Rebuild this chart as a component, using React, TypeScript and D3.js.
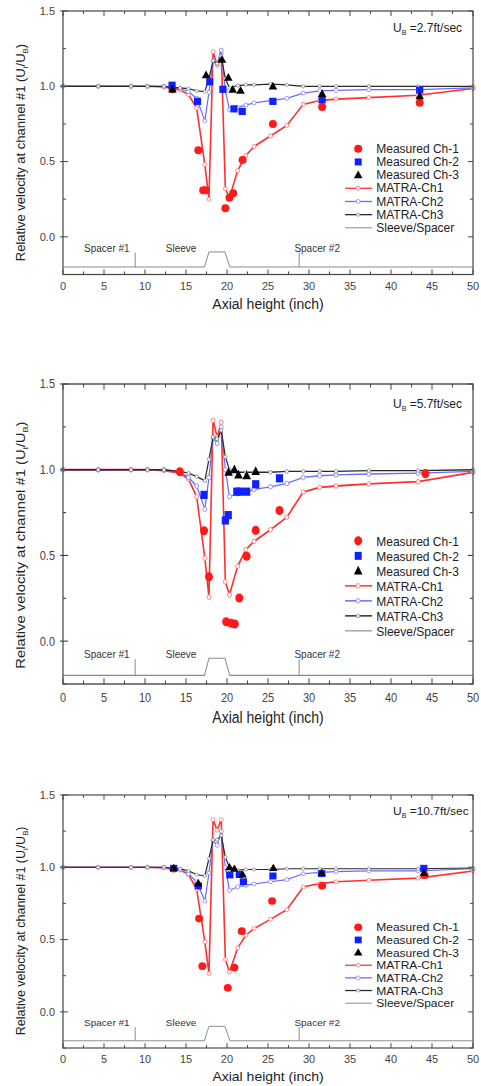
import React from "react";
import * as d3 from "d3";

// MATRA grid nodes (inch)
const nodeX = [0, 4.3, 8.3, 10.3, 12.3, 14.3, 15.3, 16.3, 17.3, 17.8, 18.3, 18.8, 19.3, 19.8, 20.3, 21.3, 22.3, 23.3, 25.3, 27.3, 29.3, 31.3, 33.3, 37.3, 43.3, 50];

// panel 1 : UB = 2.7 ft/sec
const p1Ch1 = [1, 1, 1, 1, 0.995, 0.975, 0.945, 0.855, 0.48, 0.25, 1.23, 1.14, 1.22, 0.32, 0.26, 0.44, 0.54, 0.6, 0.67, 0.74, 0.88, 0.905, 0.915, 0.925, 0.94, 0.985];
const p1Ch2 = [1, 1, 1, 1, 1, 0.985, 0.965, 0.92, 0.77, 0.96, 1.17, 1.15, 1.24, 0.97, 0.845, 0.86, 0.875, 0.89, 0.905, 0.92, 0.955, 0.97, 0.973, 0.978, 0.978, 0.99];
const p1Ch3 = [1, 1, 1, 1, 1, 0.99, 0.985, 0.97, 0.965, 1.05, 1.17, 1.15, 1.2, 1.05, 0.99, 1.005, 1.01, 1.01, 1.015, 1.01, 1, 1, 1, 1, 1, 1];
const p1M1x = [13.35, 16.5, 17.1, 17.4, 19.8, 20.3, 20.75, 21.9, 25.6, 31.6, 43.5];
const p1M1y = [0.98, 0.576, 0.31, 0.31, 0.19, 0.26, 0.29, 0.51, 0.75, 0.863, 0.89];
const p1M2x = [13.3, 16.4, 17.9, 19.5, 20.85, 21.85, 25.6, 31.6, 43.5];
const p1M2y = [1.007, 0.9, 1.03, 0.98, 0.85, 0.833, 0.9, 0.91, 0.975];
const p1M3x = [13.35, 17.45, 19.4, 20.16, 20.7, 21.65, 25.6, 31.6, 43.5];
const p1M3y = [0.98, 1.075, 1.177, 1.058, 0.978, 0.972, 1.0, 0.95, 0.935];

// panel 2 : UB = 5.7 ft/sec
const p2Ch1 = [1, 1, 1, 1, 0.995, 0.98, 0.945, 0.843, 0.484, 0.257, 1.288, 1.19, 1.277, 0.346, 0.27, 0.437, 0.534, 0.582, 0.65, 0.723, 0.87, 0.897, 0.905, 0.917, 0.93, 0.985];
const p2Ch2 = [1, 1, 1, 1, 1, 0.985, 0.955, 0.905, 0.77, 0.955, 1.186, 1.153, 1.25, 1.0, 0.843, 0.86, 0.87, 0.885, 0.9, 0.92, 0.955, 0.965, 0.97, 0.975, 0.98, 0.99];
const p2Ch3 = [1, 1, 1, 1, 1, 0.99, 0.98, 0.96, 0.936, 1.06, 1.19, 1.18, 1.23, 1.075, 1.0, 0.985, 0.985, 0.985, 0.985, 0.99, 0.99, 0.99, 0.99, 0.995, 0.995, 1.0];
const p2M1x = [14.25, 17.2, 17.8, 19.9, 20.5, 20.95, 21.5, 22.4, 23.5, 26.4, 44.2];
const p2M1y = [0.988, 0.644, 0.375, 0.113, 0.104, 0.1, 0.252, 0.495, 0.646, 0.762, 0.977];
const p2M2x = [17.2, 19.8, 20.15, 21.2, 21.55, 22.4, 23.5, 26.4];
const p2M2y = [0.853, 0.704, 0.735, 0.872, 0.872, 0.872, 0.915, 0.95];
const p2M3x = [20.2, 20.9, 21.4, 22.4, 23.5];
const p2M3y = [0.985, 1.0, 0.97, 0.965, 0.99];

// panel 3 : UB = 10.7 ft/sec
const p3Ch1 = [1, 1, 1, 1, 0.995, 0.98, 0.95, 0.848, 0.484, 0.265, 1.33, 1.256, 1.33, 0.362, 0.276, 0.442, 0.53, 0.576, 0.64, 0.707, 0.864, 0.887, 0.9, 0.91, 0.925, 0.975];
const p3Ch2 = [1, 1, 1, 1, 1, 0.985, 0.955, 0.9, 0.767, 0.96, 1.187, 1.152, 1.25, 1.0, 0.84, 0.865, 0.875, 0.885, 0.9, 0.915, 0.955, 0.965, 0.97, 0.975, 0.975, 0.99];
const p3Ch3 = [1, 1, 1, 1, 1, 0.99, 0.975, 0.95, 0.94, 1.06, 1.19, 1.19, 1.22, 1.07, 1.0, 0.98, 0.985, 0.985, 0.985, 0.99, 0.99, 0.99, 0.99, 0.99, 0.99, 0.995];
const p3M1x = [13.5, 16.6, 17.0, 20.1, 20.9, 21.8, 25.5, 31.6, 44.1];
const p3M1y = [0.99, 0.645, 0.316, 0.166, 0.306, 0.558, 0.767, 0.873, 0.945];
const p3M2x = [13.5, 16.5, 20.35, 21.5, 22.0, 25.6, 31.55, 44.0];
const p3M2y = [0.993, 0.871, 0.947, 0.95, 0.9, 0.94, 0.956, 0.993];
const p3M3x = [13.5, 16.5, 20.3, 20.9, 21.9, 25.65, 31.55, 44.0];
const p3M3y = [0.995, 0.89, 1.0, 0.99, 0.95, 0.995, 0.96, 0.96];

// sleeve / spacer outline
const sleeveX = [0, 17.25, 17.8, 19.75, 20.35, 50];
const sleeveY = [-0.2, -0.2, -0.1, -0.1, -0.2, -0.2];
const spacerX = [8.8, 28.8];

const legendLabels = ["Measured Ch-1", "Measured Ch-2", "Measured Ch-3", "MATRA-Ch1", "MATRA-Ch2", "MATRA-Ch3", "Sleeve/Spacer"];
const xTicks = [0, 5, 10, 15, 20, 25, 30, 35, 40, 45, 50];
const yTicks = [0, 0.5, 1.0, 1.5];

const panels = [
  { top: 11, bottom: 274.5, ub: "=2.7ft/sec", ch: [p1Ch1, p1Ch2, p1Ch3], m: [[p1M1x, p1M1y], [p1M2x, p1M2y], [p1M3x, p1M3y]] },
  { top: 384, bottom: 684, ub: "=5.7ft/sec", ch: [p2Ch1, p2Ch2, p2Ch3], m: [[p2M1x, p2M1y], [p2M2x, p2M2y], [p2M3x, p2M3y]] },
  { top: 795, bottom: 1048, ub: "=10.7ft/sec", ch: [p3Ch1, p3Ch2, p3Ch3], m: [[p3M1x, p3M1y], [p3M2x, p3M2y], [p3M3x, p3M3y]] },
];

const RED = "#ff1a1a";
const BLUE = "#1020ff";
const lineColors = ["#ff3030", "#6a6aff", "#2a2a2a"];
const nodeStroke = ["#ff7070", "#8080ff", "#888"];
const FONT = "Arial, 'Liberation Sans', sans-serif";
const H0 = 263.5;

const x = d3.scaleLinear().domain([0, 50]).range([63, 473]);
const y = d3.scaleLinear().domain([-0.25, 1.5]).range([H0, 0]);

const triangle = (cx: number, cy: number, r: number) =>
  `M${cx},${cy - r}L${cx + r * 0.95},${cy + r * 0.7}L${cx - r * 0.95},${cy + r * 0.7}Z`;

function Panel({ cfg }: { cfg: any }) {
  const s = (cfg.bottom - cfg.top) / H0;
  const line = d3.line<number>().x((_, i) => x(nodeX[i])).y((d) => y(d));
  const sleeveLine = d3.line<number>().x((_, i) => x(sleeveX[i])).y((d) => y(d));
  const xMinor = d3.range(0, 50.01, 2.5);
  const yMinor = d3.range(-0.25, 1.501, 0.25);

  return (
    <g transform={`translate(0,${cfg.top}) scale(1,${s})`} fontFamily={FONT}>
      {/* sleeve / spacer */}
      <path d={sleeveLine(sleeveY) || ""} fill="none" stroke="#8a8a8a" strokeWidth={1} />
      {spacerX.map((v) => (
        <line key={v} x1={x(v)} x2={x(v)} y1={y(-0.2)} y2={y(-0.105)} stroke="#8a8a8a" strokeWidth={1} />
      ))}
      <text x={x(5.35)} y={y(-0.1)} fontSize={10} fill="#333" textAnchor="middle">Spacer #1</text>
      <text x={x(14.4)} y={y(-0.1)} fontSize={10} fill="#333" textAnchor="middle">Sleeve</text>
      <text x={x(31)} y={y(-0.1)} fontSize={10} fill="#333" textAnchor="middle">Spacer #2</text>

      {/* MATRA lines */}
      {cfg.ch.map((vals: number[], k: number) => (
        <g key={k}>
          <path d={line(vals) || ""} fill="none" stroke={lineColors[k]} strokeWidth={k === 0 ? 1.6 : 1.2} />
          {vals.map((v, i) => (
            <circle key={i} cx={x(nodeX[i])} cy={y(v)} r={k === 2 ? 1.6 : 2} fill="#fff" stroke={nodeStroke[k]} strokeWidth={0.8} />
          ))}
        </g>
      ))}

      {/* measured */}
      {cfg.m[0][0].map((v: number, i: number) => (
        <circle key={"a" + i} cx={x(v)} cy={y(cfg.m[0][1][i])} r={4} fill={RED} />
      ))}
      {cfg.m[1][0].map((v: number, i: number) => (
        <rect key={"b" + i} x={x(v) - 3.6} y={y(cfg.m[1][1][i]) - 3.6} width={7.2} height={7.2} fill={BLUE} />
      ))}
      {cfg.m[2][0].map((v: number, i: number) => (
        <path key={"c" + i} d={triangle(x(v), y(cfg.m[2][1][i]), 4.5)} fill="#000" />
      ))}

      {/* frame + ticks */}
      <rect x={x(0)} y={0} width={x(50) - x(0)} height={H0} fill="none" stroke="#444" strokeWidth={1.2} />
      {xMinor.map((v) => {
        const len = v % 5 === 0 ? 5 : 3;
        return (
          <g key={"xt" + v} stroke="#444" strokeWidth={1}>
            <line x1={x(v)} x2={x(v)} y1={H0} y2={H0 - len} />
            <line x1={x(v)} x2={x(v)} y1={0} y2={len} />
          </g>
        );
      })}
      {yMinor.map((v) => {
        const major = Math.abs(Math.round(v * 2) - v * 2) < 1e-6;
        const len = major ? 5 : 3;
        return (
          <g key={"yt" + v} stroke="#444" strokeWidth={1}>
            <line x1={x(0) - (major ? 3 : 0)} x2={x(0) + len} y1={y(v)} y2={y(v)} />
            <line x1={x(50)} x2={x(50) - len} y1={y(v)} y2={y(v)} />
          </g>
        );
      })}
      {xTicks.map((v) => (
        <text key={"xl" + v} x={x(v)} y={H0 + 15.5} fontSize={11} fill="#444" textAnchor="middle">{v}</text>
      ))}
      {yTicks.map((v) => (
        <text key={"yl" + v} x={55} y={y(v)} dy="0.35em" fontSize={11} fill="#444" textAnchor="end">{d3.format(".1f")(v)}</text>
      ))}
      <text x={268} y={H0 + 34.5} fontSize={14} fill="#222" textAnchor="middle">Axial height (inch)</text>
      <text transform={`translate(25,${141.5}) rotate(-90)`} fontSize={13} fill="#222" textAnchor="middle">
        Relative velocity at channel #1 (U<tspan fontSize={8} dy={3}>i</tspan><tspan dy={-3}>/U</tspan><tspan fontSize={8} dy={3}>B</tspan><tspan dy={-3}>)</tspan>
      </text>

      {/* UB annotation */}
      <text x={393} y={y(1.39)} dy="0.35em" fontSize={12} fill="#222">
        U<tspan fontSize={7} dy={3}>B</tspan><tspan dy={-3}> {cfg.ub}</tspan>
      </text>

      {/* legend */}
      {legendLabels.map((lab, i) => {
        const ly = y(0.585 - i * 0.0875);
        const sx = x(36);
        return (
          <g key={lab}>
            {i === 0 && <circle cx={sx} cy={ly} r={4} fill={RED} />}
            {i === 1 && <rect x={sx - 3.5} y={ly - 3.5} width={7} height={7} fill={BLUE} />}
            {i === 2 && <path d={triangle(sx, ly, 4.5)} fill="#000" />}
            {i >= 3 && i <= 5 && (
              <g>
                <line x1={x(34.4)} x2={x(37.7)} y1={ly} y2={ly} stroke={lineColors[i - 3]} strokeWidth={1.3} />
                <circle cx={sx} cy={ly} r={i === 5 ? 1.6 : 2} fill="#fff" stroke={nodeStroke[i - 3]} strokeWidth={0.8} />
              </g>
            )}
            {i === 6 && <line x1={x(34.4)} x2={x(37.7)} y1={ly} y2={ly} stroke="#8a8a8a" strokeWidth={1} />}
            <text x={x(38.2)} y={ly} dy="0.35em" fontSize={12} fill="#222">{lab}</text>
          </g>
        );
      })}
    </g>
  );
}

export default function App() {
  return (
    <svg width={481} height={1086} style={{ position: "absolute", left: 0, top: 0, background: "#fff" }}>
      {panels.map((p, i) => (
        <Panel key={i} cfg={p} />
      ))}
    </svg>
  );
}
